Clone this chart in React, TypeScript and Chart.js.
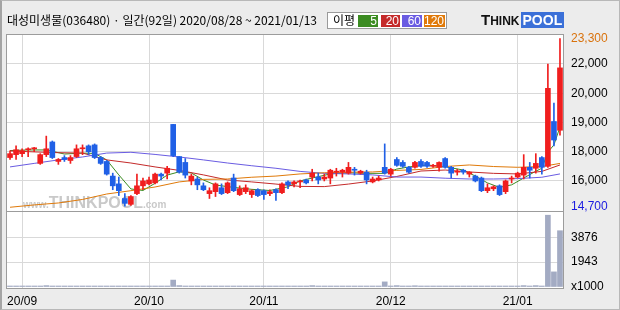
import React, { useEffect, useRef } from 'react';
import { Chart, registerables } from 'chart.js';

Chart.register(...registerables);

const dates = [
  '20/08/28', '20/08/31',
  '20/09/01', '20/09/02', '20/09/03', '20/09/04', '20/09/07', '20/09/08', '20/09/09', '20/09/10', '20/09/11',
  '20/09/14', '20/09/15', '20/09/16', '20/09/17', '20/09/18', '20/09/21', '20/09/22', '20/09/23', '20/09/24',
  '20/09/25', '20/09/28', '20/09/29',
  '20/10/05', '20/10/06', '20/10/07', '20/10/08', '20/10/12', '20/10/13', '20/10/14', '20/10/15', '20/10/16',
  '20/10/19', '20/10/20', '20/10/21', '20/10/22', '20/10/23', '20/10/26', '20/10/27', '20/10/28', '20/10/29', '20/10/30',
  '20/11/02', '20/11/03', '20/11/04', '20/11/05', '20/11/06', '20/11/09', '20/11/10', '20/11/11', '20/11/12', '20/11/13',
  '20/11/16', '20/11/17', '20/11/18', '20/11/19', '20/11/20', '20/11/23', '20/11/24', '20/11/25', '20/11/26', '20/11/27',
  '20/11/30',
  '20/12/01', '20/12/02', '20/12/03', '20/12/04', '20/12/07', '20/12/08', '20/12/09', '20/12/10', '20/12/11',
  '20/12/14', '20/12/15', '20/12/16', '20/12/17', '20/12/18', '20/12/21', '20/12/22', '20/12/23', '20/12/24',
  '20/12/28', '20/12/29', '20/12/30',
  '21/01/04', '21/01/05', '21/01/06', '21/01/07', '21/01/08', '21/01/11', '21/01/12', '21/01/13',
];

const opens = [
  17200, 17350, 17400, 17600, 17650, 16900, 17350, 18000, 17000, 17200,
  17050, 17250, 17650, 17800, 17850, 17200, 17000, 16250, 15850, 15100,
  14800, 15350, 15750, 15850, 15900, 16350, 16400, 18900, 17250, 16950,
  16000, 16100, 15750, 15350, 15450, 15650, 15400, 16150, 15300, 15450,
  15300, 15550, 15500, 15350, 15550, 15400, 15950, 15850, 15950, 16050,
  16200, 16200, 16100, 16150, 16450, 16450, 16400, 16600, 16400, 16450,
  15950, 16050, 16700, 16350, 17100, 16950, 16700, 16700, 17000, 16950,
  16750, 16700, 17150, 16700, 16450, 16550, 16350, 16250, 16150, 15500,
  15600, 15750, 15450, 16100, 16200, 16300, 16700, 16650, 17200, 16750,
  19050, 18600,
];
const highs = [
  17550, 17800, 17650, 17700, 17720, 17400, 18300, 18050, 17150, 17300,
  17300, 17850, 17850, 17850, 17900, 17250, 17050, 16400, 16200, 15350,
  15250, 16350, 16150, 16200, 16400, 16400, 16750, 18900, 17250, 17150,
  16350, 16200, 15900, 15650, 15900, 15850, 15950, 16350, 15750, 15800,
  15550, 15600, 15550, 15550, 15600, 15900, 16000, 16000, 16050, 16100,
  16600, 16400, 16350, 16600, 16650, 16600, 16950, 16700, 16550, 16550,
  16200, 16250, 17900, 16650, 17200, 17050, 16750, 17000, 17100, 17000,
  16850, 16980, 17200, 16750, 16600, 16600, 16480, 16300, 16200, 15850,
  15750, 15800, 16050, 16250, 16450, 17350, 16950, 17400, 17250, 22000,
  20000, 23300,
];
const lows = [
  17100, 17100, 17250, 17250, 17500, 16850, 17250, 17150, 16850, 17000,
  16900, 17200, 17350, 17350, 17150, 16850, 16300, 15550, 15250, 14700,
  14750, 15300, 15550, 15800, 15850, 16050, 16100, 17250, 16400, 16150,
  15800, 15550, 15500, 15100, 15200, 15300, 15350, 15450, 15250, 15350,
  15150, 15200, 15050, 15250, 15000, 15350, 15600, 15700, 15650, 15850,
  16000, 15850, 16000, 15850, 16250, 16200, 16350, 16300, 16350, 15850,
  15900, 16000, 16350, 16250, 16750, 16700, 16400, 16650, 16700, 16700,
  16700, 16500, 16650, 16150, 16300, 16350, 16200, 15950, 15450, 15400,
  15500, 15250, 15350, 15900, 16150, 16100, 16150, 16400, 16350, 16700,
  17800, 18350,
];
const closes = [
  17400, 17600, 17550, 17650, 17700, 17350, 17650, 17200, 17100, 17100,
  17200, 17650, 17700, 17500, 17200, 16900, 16350, 15750, 15500, 14850,
  15200, 15750, 16000, 16050, 16350, 16250, 16650, 17300, 16450, 16300,
  16250, 15800, 15550, 15500, 15850, 15350, 15900, 15500, 15600, 15650,
  15500, 15250, 15300, 15450, 15400, 15850, 15800, 15950, 16000, 15900,
  16400, 16050, 16200, 16550, 16500, 16550, 16700, 16550, 16500, 16050,
  16100, 16150, 16400, 16600, 16800, 16750, 16450, 16950, 16750, 16750,
  16800, 16950, 16700, 16400, 16500, 16450, 16450, 16000, 15500, 15650,
  15700, 15300, 16000, 16150, 16400, 16700, 16550, 16900, 16700, 20750,
  18100, 21800,
];

// volume in thousands of shares
const volumes = [
  80, 80, 80, 80, 80, 80, 110, 80, 80, 80,
  80, 80, 80, 80, 80, 80, 80, 80, 80, 80,
  80, 80, 80, 80, 80, 80, 80, 540, 110, 80,
  80, 80, 80, 80, 80, 80, 80, 80, 80, 80,
  80, 80, 80, 80, 80, 80, 80, 80, 80, 80,
  110, 80, 80, 80, 80, 80, 80, 80, 80, 80,
  80, 80, 400, 80, 110, 80, 80, 100, 80, 80,
  80, 80, 80, 80, 80, 80, 80, 80, 80, 80,
  80, 80, 80, 80, 80, 110, 80, 110, 80, 5600,
  1180, 4390,
];

const ma5Days = [0, 3, 6, 9, 12, 14, 16, 18, 20, 22, 24, 26, 28, 30, 32, 34, 37, 40, 43, 46, 48, 50, 53, 56, 59, 62, 64, 66, 69, 72, 75, 77, 79, 81, 83, 85, 87, 88, 89, 90, 91];
const ma5Values = [17560, 17590, 17590, 17380, 17430, 17410, 17080, 16310, 15590, 15510, 15880, 16300, 16470, 16410, 16050, 15790, 15670, 15570, 15510, 15700, 16000, 16150, 16360, 16420, 16390, 16390, 16610, 16720, 16820, 16730, 16560, 16250, 15900, 15670, 15800, 16150, 16500, 16650, 17480, 17850, 18770];

const maDays = [0, 4, 8, 12, 16, 20, 24, 28, 32, 36, 40, 44, 48, 52, 56, 60, 64, 68, 72, 76, 80, 84, 88, 91];
const ma20Values = [17540, 17490, 17450, 17430, 17080, 16920, 16720, 16540, 16310, 16050, 15950, 15840, 15720, 15710, 15840, 16000, 16230, 16510, 16560, 16460, 16390, 16360, 16490, 16820];
const ma60Values = [16720, 16900, 17080, 17230, 17430, 17470, 17360, 17230, 17080, 16920, 16780, 16650, 16490, 16390, 16360, 16310, 16200, 16200, 16140, 16100, 16100, 16120, 16190, 16360];
const ma120Values = [14650, 14770, 14870, 15050, 15330, 15500, 15690, 15950, 16080, 16100, 16190, 16250, 16360, 16420, 16450, 16460, 16540, 16590, 16740, 16820, 16740, 16700, 16740, 16900];

const priceTicks = [14700, 16000, 17500, 19000, 20500, 22000, 23300];
const priceTickLabels = ['14,700', '16,000', '18,000', '19,000', '20,000', '22,000', '23,300'];
const volTicks = [0, 1943, 3876];
const volTickLabels = ['x1000', '1943', '3876'];

const UP = '#f01e1e';
const DOWN = '#2060e6';
const C5 = '#3c8c22';
const C20 = '#c42a2a';
const C60 = '#6a5ce2';
const C120 = '#e07a0a';
const GRID = '#d9d9d9';

const framePlugin = {
  id: 'frame',
  beforeDraw(chart: any) {
    const { ctx, chartArea: a } = chart;
    ctx.save();
    ctx.fillStyle = '#ffffff';
    ctx.fillRect(a.left, a.top, a.right - a.left, a.bottom - a.top);
    ctx.restore();
  },
  beforeDatasetsDraw(chart: any) {
    const { ctx } = chart;
    ctx.save();
    ctx.fillStyle = '#c9c9c9';
    ctx.textBaseline = 'alphabetic';
    const y = 208;
    let x = 23;
    ctx.font = 'bold 10px "Liberation Sans"';
    ctx.fillText('www.', x, y);
    x += ctx.measureText('www.').width;
    ctx.font = 'bold 16px "Liberation Sans"';
    ctx.fillText('THINKPOOL', x, y);
    x += ctx.measureText('THINKPOOL').width;
    ctx.font = 'bold 10px "Liberation Sans"';
    ctx.fillText('.com', x, y);
    ctx.restore();
  },
  afterDraw(chart: any) {
    const { ctx, chartArea: a } = chart;
    const sep = Math.round(chart.scales.yv.top);
    ctx.save();
    ctx.strokeStyle = '#9c9c9c';
    ctx.lineWidth = 1;
    ctx.strokeRect(Math.round(a.left) - 0.5, Math.round(a.top) - 0.5, Math.round(a.right - a.left) + 1, Math.round(a.bottom - a.top) + 1);
    ctx.beginPath();
    ctx.moveTo(a.left, sep - 0.5);
    ctx.lineTo(a.right, sep - 0.5);
    ctx.stroke();
    ctx.restore();
  },
};

const App = () => {
  const ref = useRef<HTMLCanvasElement>(null);

  useEffect(() => {
    const monthStart = dates.map((d, i) => i > 0 && d.slice(0, 5) !== dates[i - 1].slice(0, 5));
    const colors = opens.map((o, i) => (closes[i] >= o ? UP : DOWN));
    const line = (days: number[], vals: number[], color: string) => ({
      type: 'line',
      data: days.map((d, j) => ({ x: dates[d], y: vals[j] })),
      borderColor: color,
      borderWidth: 1,
      pointRadius: 0,
      fill: false,
      tension: 0,
      yAxisID: 'y',
      order: 2,
    });
    const tickFont = { family: '"Liberation Sans", Arial, sans-serif', size: 12 };

    const chart = new Chart(ref.current as HTMLCanvasElement, {
      type: 'bar',
      data: {
        labels: dates,
        datasets: [
          line(maDays, ma120Values, C120),
          line(maDays, ma60Values, C60),
          line(maDays, ma20Values, C20),
          line(ma5Days, ma5Values, C5),
          {
            type: 'bar',
            data: lows.map((l, i) => [l, highs[i]]),
            backgroundColor: colors,
            barThickness: 1,
            grouped: false,
            yAxisID: 'y',
            order: 1,
          },
          {
            type: 'bar',
            data: opens.map((o, i) => [o, closes[i]]),
            backgroundColor: colors,
            barThickness: 5,
            minBarLength: 1,
            grouped: false,
            yAxisID: 'y',
            order: 0,
          },
          {
            type: 'bar',
            data: volumes,
            backgroundColor: '#a3abc3',
            barThickness: 5,
            grouped: false,
            yAxisID: 'yv',
            order: 0,
          },
        ] as any,
      },
      options: {
        responsive: false,
        animation: false,
        devicePixelRatio: 1,
        events: [],
        layout: { padding: { left: 7, top: 35, right: 0, bottom: 0 } },
        plugins: { legend: { display: false }, tooltip: { enabled: false } },
        scales: {
          x: {
            type: 'category',
            offset: true,
            grid: {
              offset: false,
              drawTicks: false,
              color: (c: any) => (monthStart[c.index] ? GRID : 'rgba(0,0,0,0)'),
            },
            border: { display: false },
            ticks: {
              autoSkip: false,
              maxRotation: 0,
              minRotation: 0,
              padding: 6,
              color: '#000',
              font: tickFont,
              callback: (_v: any, i: number) => (monthStart[i] ? dates[i].slice(0, 5) : ''),
            },
            afterFit: (s: any) => { s.height = 22; },
          },
          y: {
            type: 'linear',
            position: 'right',
            stack: 'panes',
            stackWeight: 177,
            min: 14407,
            max: 23487,
            afterBuildTicks: (s: any) => { s.ticks = priceTicks.map((v) => ({ value: v })); },
            grid: {
              drawTicks: false,
              color: (c: any) => (c.index === 0 || c.index === priceTicks.length - 1 ? 'rgba(0,0,0,0)' : GRID),
            },
            border: { display: false },
            ticks: {
              autoSkip: false,
              padding: 8,
              font: tickFont,
              color: (c: any) => (c.index === priceTicks.length - 1 ? '#d9720c' : c.index === 0 ? '#1a1ae0' : '#000'),
              callback: (_v: any, i: number) => priceTickLabels[i],
            },
            afterFit: (s: any) => { s.width = 57; },
          },
          yv: {
            type: 'linear',
            position: 'right',
            stack: 'panes',
            stackWeight: 76,
            min: -77,
            max: 5850,
            afterBuildTicks: (s: any) => { s.ticks = volTicks.map((v) => ({ value: v })); },
            grid: {
              drawTicks: false,
              color: (c: any) => (c.index === 0 ? 'rgba(0,0,0,0)' : GRID),
            },
            border: { display: false },
            ticks: {
              autoSkip: false,
              padding: 8,
              font: tickFont,
              color: '#000',
              callback: (_v: any, i: number) => volTickLabels[i],
            },
            afterFit: (s: any) => { s.width = 57; },
          },
        },
      } as any,
      plugins: [framePlugin],
    });
    return () => chart.destroy();
  }, []);

  const legendBox = (left: number, width: number, bg: string, text: string) => (
    <span
      style={{
        position: 'absolute', left, top: 2, width, height: 12, background: bg, color: '#fff',
        font: '12px "Liberation Sans", Arial, sans-serif', lineHeight: '12px', textAlign: 'right',
        boxSizing: 'border-box', paddingRight: 1,
      }}
    >{text}</span>
  );

  return (
    <div style={{ position: 'absolute', left: 0, top: 0, width: 620, height: 310, background: '#ececec', overflow: 'hidden' }}>
      <canvas ref={ref} width={620} height={310} style={{ position: 'absolute', left: 0, top: 0, width: 620, height: 310 }} />
      <div
        style={{
          position: 'absolute', left: 7, top: 11, whiteSpace: 'nowrap', color: '#000',
          font: '12px "Noto Sans CJK KR", sans-serif', lineHeight: '17px', letterSpacing: '0px',
        }}
      >대성미생물(036480) · 일간(92일) 2020/08/28 ~ 2021/01/13</div>
      <div
        style={{
          position: 'absolute', left: 327, top: 12, width: 120, height: 17, background: '#fff',
          border: '1px solid #9a9a9a', boxSizing: 'border-box',
        }}
      >
        <span style={{ position: 'absolute', left: 5, top: -1, font: '12px "Noto Sans CJK KR", sans-serif', lineHeight: '16px', color: '#000' }}>이평</span>
        {legendBox(30, 20, C5, '5')}
        {legendBox(53, 19, C20, '20')}
        {legendBox(74, 20, C60, '60')}
        {legendBox(96, 21, C120, '120')}
      </div>
      <div style={{ position: 'absolute', left: 481, top: 12, whiteSpace: 'nowrap', lineHeight: '16px', fontFamily: '"Liberation Sans", Arial, sans-serif', fontWeight: 'bold' }}>
        <span style={{ fontSize: 15, color: '#111' }}>T</span>
        <span style={{ fontSize: 12, color: '#111' }}>HINK</span>
        <span style={{ fontSize: 14, color: '#fff', background: '#3b70d8', padding: '0 2px', marginLeft: 1 }}>POOL</span>
      </div>
      <div style={{ position: 'absolute', left: 0, top: 0, width: 620, height: 310, boxSizing: 'border-box', border: '1px solid #b8b8b8', borderLeft: '2px solid #a4a4a4', pointerEvents: 'none' }} />
    </div>
  );
};

export default App;
